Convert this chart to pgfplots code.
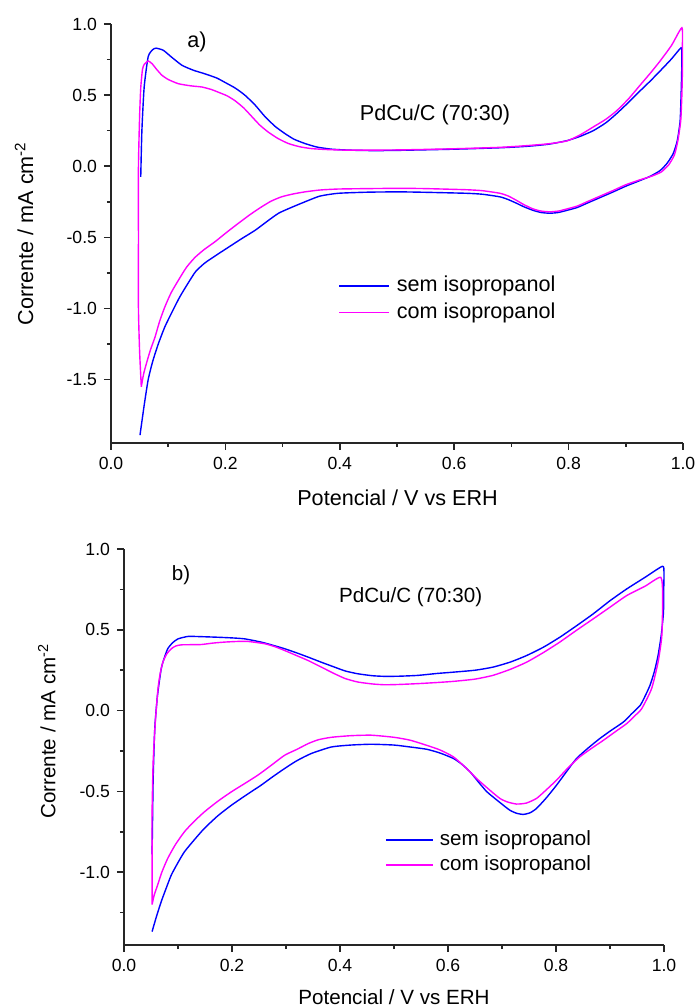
\documentclass[border=0pt]{standalone}
\usepackage{pgfplots}
\pgfplotsset{compat=1.18}
\usepackage{fontspec}
\setmainfont{Liberation Sans}
\definecolor{cblue}{RGB}{0,0,255}
\definecolor{cmag}{RGB}{255,0,255}
\pgfplotsset{
  cvstyle/.style={
    scale only axis,
    axis lines=left,
    axis line style={-, line width=1pt, black!85},
    xmin=0, xmax=1,
    xtick={0,0.2,0.4,0.6,0.8,1.0},
    ytick={-1.5,-1.0,-0.5,0,0.5,1.0},
    minor x tick num=1, minor y tick num=1,
    tick align=outside,
    major tick length=3.5pt, minor tick length=2pt,
    tick style={line width=0.8pt, black!85},
    /pgf/number format/assume math mode=true,
    /pgf/number format/.cd, fixed, fixed zerofill, precision=1, /pgfplots/.cd,
    tick label style={font=\fontsize{8.8pt}{10pt}\selectfont},
    clip=false,
    legend cell align=left,
  },
  cv/.style={line width=0.7pt, smooth, tension=0.35},
}
\begin{document}
\begin{tikzpicture}
\path[use as bounding box] (0,0) rectangle (349.5pt,503.5pt);
% ---------------- panel a ----------------
\begin{axis}[cvstyle,
  at={(55.5pt,282pt)}, anchor=south west,
  width=286pt, height=209.5pt,
  ymin=-1.945, ymax=1.0,
  xlabel={Potencial / V vs ERH},
  ylabel={Corrente / mA cm\textsuperscript{-2}},
  label style={font=\fontsize{10.8pt}{13pt}\selectfont},
  xlabel style={at={(axis description cs:0.501,-0.131)}, anchor=center},
  ylabel style={at={(axis description cs:-0.152,0.5)}, anchor=center, rotate=0},
  legend style={draw=none, fill=none, at={(axis description cs:0.397,0.343)}, anchor=west,
    inner sep=0pt, row sep=0pt, font=\fontsize{10.8pt}{13pt}\selectfont,
    nodes={inner xsep=3.5pt, inner ysep=0pt, text height=9.5pt, text depth=3.8pt}},
  legend image code/.code={\draw[#1] (0pt,0pt) -- (25pt,0pt);},
]
\addplot[cblue, cv] coordinates {
(0.052,-0.075) (0.054,0.25) (0.058,0.557) (0.065,0.77) (0.073,0.82) (0.079,0.83) (0.0915,0.815) (0.105,0.77) (0.124,0.71) (0.144,0.675) (0.164,0.65) (0.185,0.62) (0.199,0.59) (0.217,0.55) (0.234,0.50) (0.252,0.43) (0.269,0.35) (0.287,0.28) (0.304,0.23) (0.32,0.19) (0.339,0.16) (0.36,0.135) (0.386,0.12) (0.42,0.113) (0.46,0.11) (0.505,0.112) (0.6,0.12) (0.68,0.13) (0.727,0.14) (0.765,0.155) (0.797,0.18) (0.82,0.21) (0.843,0.25) (0.865,0.305) (0.884,0.37) (0.905,0.45) (0.925,0.53) (0.943,0.60) (0.960,0.67) (0.98,0.755) (0.9965,0.833) (0.998,0.80) (0.998,0.72) (0.997,0.55) (0.995,0.32) (0.99,0.18) (0.983,0.09) (0.972,0.02) (0.96,-0.03) (0.943,-0.07) (0.925,-0.10) (0.9,-0.14) (0.878,-0.18) (0.855,-0.22) (0.832,-0.26) (0.815,-0.29) (0.797,-0.31) (0.782,-0.325) (0.767,-0.33) (0.752,-0.325) (0.738,-0.31) (0.722,-0.285) (0.709,-0.26) (0.695,-0.235) (0.680,-0.215) (0.65,-0.197) (0.622,-0.19) (0.55,-0.183) (0.505,-0.18) (0.45,-0.182) (0.397,-0.19) (0.365,-0.21) (0.339,-0.25) (0.315,-0.29) (0.293,-0.33) (0.272,-0.39) (0.252,-0.45) (0.228,-0.51) (0.205,-0.57) (0.184,-0.625) (0.164,-0.68) (0.148,-0.74) (0.135,-0.82) (0.12,-0.92) (0.106,-1.03) (0.094,-1.13) (0.083,-1.245) (0.073,-1.37) (0.065,-1.50) (0.058,-1.68) (0.0507,-1.89)
};
\addlegendentry{sem isopropanol}
\addplot[cmag, cv] coordinates {
(0.053,-1.55) (0.050,-1.3) (0.048,-1.0) (0.048,-0.5) (0.048,0.0) (0.050,0.35) (0.052,0.55) (0.055,0.68) (0.058,0.715) (0.065,0.74) (0.072,0.72) (0.08,0.68) (0.089,0.64) (0.1,0.61) (0.118,0.58) (0.14,0.565) (0.159,0.557) (0.175,0.54) (0.188,0.52) (0.203,0.495) (0.217,0.46) (0.232,0.41) (0.246,0.35) (0.26,0.29) (0.275,0.24) (0.292,0.195) (0.31,0.16) (0.33,0.137) (0.351,0.124) (0.38,0.117) (0.42,0.113) (0.505,0.115) (0.6,0.123) (0.68,0.133) (0.727,0.145) (0.765,0.158) (0.797,0.178) (0.82,0.22) (0.843,0.276) (0.865,0.33) (0.884,0.39) (0.905,0.475) (0.925,0.57) (0.943,0.655) (0.96,0.74) (0.98,0.85) (0.998,0.974) (0.999,0.85) (0.999,0.68) (0.998,0.5) (0.996,0.32) (0.991,0.18) (0.985,0.08) (0.975,0.01) (0.962,-0.04) (0.945,-0.07) (0.925,-0.095) (0.9,-0.13) (0.878,-0.17) (0.855,-0.21) (0.832,-0.25) (0.815,-0.28) (0.797,-0.30) (0.782,-0.315) (0.767,-0.32) (0.752,-0.315) (0.738,-0.30) (0.722,-0.27) (0.709,-0.24) (0.695,-0.21) (0.68,-0.19) (0.65,-0.172) (0.622,-0.165) (0.55,-0.157) (0.505,-0.155) (0.45,-0.157) (0.397,-0.16) (0.365,-0.167) (0.339,-0.18) (0.318,-0.195) (0.298,-0.215) (0.28,-0.245) (0.263,-0.286) (0.243,-0.34) (0.223,-0.40) (0.202,-0.465) (0.182,-0.53) (0.163,-0.585) (0.147,-0.64) (0.132,-0.71) (0.118,-0.80) (0.105,-0.89) (0.094,-0.99) (0.085,-1.09) (0.077,-1.20) (0.069,-1.29) (0.062,-1.385) (0.057,-1.46) (0.053,-1.55)
};
\addlegendentry{com isopropanol}
\end{axis}
% ---------------- panel b ----------------
\begin{axis}[cvstyle,
  at={(62pt,31pt)}, anchor=south west,
  width=270pt, height=198pt,
  ymin=-1.45, ymax=1.0,
  xlabel={Potencial / V vs ERH},
  ylabel={Corrente / mA cm\textsuperscript{-2}},
  label style={font=\fontsize{10.3pt}{12.5pt}\selectfont},
  xlabel style={at={(axis description cs:0.5,-0.131)}, anchor=center},
  ylabel style={at={(axis description cs:-0.143,0.54)}, anchor=center, rotate=0},
  legend style={draw=none, fill=none, at={(axis description cs:0.483,0.2336)}, anchor=west,
    inner sep=0pt, row sep=0pt, font=\fontsize{10.3pt}{12.5pt}\selectfont,
    nodes={inner xsep=3.3pt, inner ysep=0pt, text height=9pt, text depth=3.5pt}},
  legend image code/.code={\draw[#1] (0pt,0pt) -- (23.3pt,0pt);},
]
\addplot[cblue, cv] coordinates {
(0.052,-0.89) (0.053,-0.65) (0.054,-0.42) (0.057,-0.11) (0.062,0.094) (0.069,0.26) (0.075,0.33) (0.081,0.383) (0.09,0.42) (0.1,0.444) (0.1185,0.459) (0.14,0.458) (0.174,0.454) (0.2,0.45) (0.2235,0.444) (0.254,0.424) (0.275,0.405) (0.2975,0.383) (0.32,0.357) (0.341,0.331) (0.365,0.30) (0.39,0.269) (0.41,0.245) (0.433,0.228) (0.46,0.216) (0.483,0.212) (0.51,0.213) (0.544,0.218) (0.58,0.23) (0.61,0.238) (0.65,0.25) (0.683,0.269) (0.715,0.30) (0.7457,0.341) (0.777,0.393) (0.807,0.454) (0.838,0.525) (0.869,0.599) (0.9,0.68) (0.931,0.753) (0.965,0.825) (0.997,0.893) (1.0,0.856) (0.9995,0.75) (0.999,0.609) (0.995,0.47) (0.989,0.341) (0.982,0.24) (0.974,0.156) (0.965,0.09) (0.956,0.033) (0.94,-0.02) (0.925,-0.07) (0.903,-0.12) (0.881,-0.173) (0.86,-0.23) (0.838,-0.296) (0.82,-0.375) (0.801,-0.461) (0.782,-0.54) (0.764,-0.605) (0.752,-0.632) (0.7395,-0.642) (0.727,-0.635) (0.714,-0.615) (0.693,-0.56) (0.672,-0.502) (0.656,-0.44) (0.641,-0.379) (0.625,-0.33) (0.61,-0.296) (0.585,-0.262) (0.5605,-0.239) (0.530,-0.225) (0.5,-0.213) (0.458,-0.208) (0.42,-0.213) (0.384,-0.225) (0.347,-0.265) (0.32,-0.31) (0.2975,-0.358) (0.275,-0.41) (0.254,-0.461) (0.226,-0.523) (0.199,-0.585) (0.174,-0.65) (0.149,-0.728) (0.13,-0.80) (0.112,-0.873) (0.1,-0.94) (0.0876,-1.017) (0.078,-1.10) (0.069,-1.181) (0.06,-1.275) (0.052,-1.367)
};
\addlegendentry{sem isopropanol}
\addplot[cmag, cv] coordinates {
(0.052,-1.20) (0.052,-0.90) (0.052,-0.63) (0.054,-0.317) (0.058,-0.07) (0.063,0.136) (0.067,0.23) (0.072,0.30) (0.079,0.35) (0.0876,0.383) (0.096,0.40) (0.106,0.407) (0.125,0.408) (0.143,0.409) (0.165,0.418) (0.186,0.424) (0.21,0.428) (0.2296,0.428) (0.2605,0.414) (0.28,0.395) (0.2975,0.372) (0.32,0.34) (0.341,0.31) (0.365,0.27) (0.39,0.228) (0.41,0.198) (0.433,0.177) (0.46,0.165) (0.483,0.160) (0.51,0.162) (0.544,0.167) (0.58,0.174) (0.61,0.181) (0.65,0.195) (0.683,0.218) (0.715,0.255) (0.7457,0.30) (0.777,0.36) (0.807,0.424) (0.838,0.497) (0.869,0.568) (0.9,0.64) (0.931,0.712) (0.965,0.77) (0.994,0.825) (0.9975,0.712) (0.996,0.465) (0.989,0.30) (0.977,0.136) (0.9587,0.012) (0.945,-0.035) (0.931,-0.08) (0.91,-0.13) (0.888,-0.183) (0.866,-0.233) (0.844,-0.286) (0.822,-0.355) (0.801,-0.43) (0.782,-0.49) (0.764,-0.543) (0.745,-0.572) (0.727,-0.578) (0.71,-0.565) (0.696,-0.543) (0.675,-0.485) (0.653,-0.42) (0.632,-0.35) (0.61,-0.286) (0.585,-0.243) (0.56,-0.214) (0.53,-0.183) (0.5,-0.165) (0.458,-0.152) (0.42,-0.155) (0.384,-0.165) (0.36,-0.18) (0.341,-0.204) (0.32,-0.24) (0.2975,-0.276) (0.272,-0.34) (0.248,-0.399) (0.224,-0.45) (0.199,-0.502) (0.174,-0.56) (0.149,-0.626) (0.13,-0.685) (0.112,-0.749) (0.095,-0.83) (0.081,-0.914) (0.07,-1.0) (0.0624,-1.078) (0.056,-1.14) (0.052,-1.20)
};
\addlegendentry{com isopropanol}
\end{axis}
% ---------------- annotations ----------------
\node[font=\fontsize{10.8pt}{13pt}\selectfont] at (98.5pt,482.5pt) {a)};
\node[font=\fontsize{10.8pt}{13pt}\selectfont] at (217.5pt,446pt) {PdCu/C (70:30)};
\node[font=\fontsize{10.3pt}{12.5pt}\selectfont] at (90.5pt,216pt) {b)};
\node[font=\fontsize{10.3pt}{12.5pt}\selectfont] at (205.35pt,205.15pt) {PdCu/C (70:30)};
\end{tikzpicture}
\end{document}
